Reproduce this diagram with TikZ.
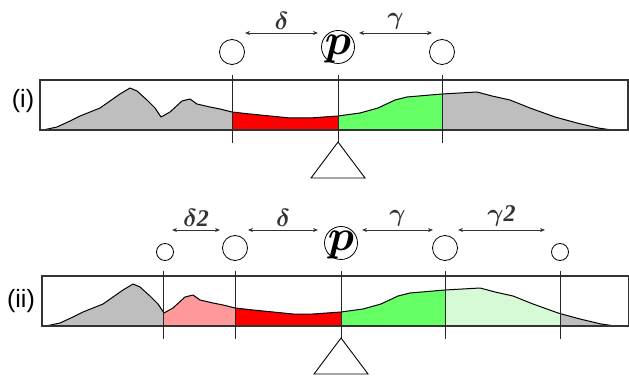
\documentclass[tikz,border=0pt]{standalone}
\usepackage{fontspec}
\usepackage{bm}
\usepackage{graphicx}
\setmainfont{Liberation Serif}
\setsansfont{Liberation Sans}
\usetikzlibrary{arrows.meta,positioning}
\definecolor{hillgray}{RGB}{190,190,190}
\definecolor{lossred}{RGB}{255,0,0}
\definecolor{losspink}{RGB}{255,153,153}
\definecolor{gaingreen}{RGB}{102,255,102}
\definecolor{gainpale}{RGB}{214,250,214}
\tikzset{
  panelbox/.style={draw=black!80, line width=1.1pt},
  ridge/.style={draw=black, line width=1pt, line join=round},
  marker/.style={draw=black!85, line width=0.9pt},
  stone/.style={circle, draw=black, line width=0.8pt, inner sep=0pt,
    minimum size=25pt},
  pebble/.style={stone, minimum size=17pt},
  pivot/.style={stone, minimum size=33pt},
  pivlbl/.style={inner sep=0pt, font=\fontsize{24}{24}\selectfont},
  span/.style={{Stealth[length=5pt,width=4pt]}-{Stealth[length=5pt,width=4pt]},
    line width=0.7pt, black!80},
  spanlbl/.style={font=\fontsize{24}{24}\selectfont, inner sep=1pt},
  rowlbl/.style={font=\sffamily\fontsize{25}{25}\selectfont},
  fulcrum/.style={draw=black, line width=0.9pt, fill=white},
}
\newcommand{\ridgepath}{(43,130) -- (57,127) -- (70,121) -- (80,116)
  -- (100,108) -- (110,101) -- (120,94) -- (130,88) -- (137,91)
  -- (147,100) -- (155,108) -- (161,117) -- (170,112) -- (182,101)
  -- (190,99) -- (197,104) -- (210,107) -- (220,109) -- (232,112)
  -- (250,114) -- (270,116) -- (290,118) -- (310,118) -- (338,116)
  -- (360,113) -- (378,108) -- (395,100) -- (407,97) -- (442,94)
  -- (477,92) -- (492,96) -- (510,100) -- (530,108) -- (555,117)
  -- (577,123) -- (598,128) -- (612,130)}
\newcommand{\band}[3]{%
  \begin{scope}
    \clip (#1,60) rectangle (#2,140);
    \fill[#3] \ridgepath -- cycle;
  \end{scope}
}
\newcommand{\bsym}[1]{$\bm{#1}$}
\newcommand{\bigp}{\scalebox{1.75}{\bsym{p}}}
\newcommand{\two}{\textbf{\textit{2}}}

\begin{document}
\begin{tikzpicture}[x=1pt, y=-1pt]
\useasboundingbox (0,0) rectangle (629,379);

%% ── Panel (i) ────────────────────────────────────────────────────────────
\band{0}{232}{hillgray}
\band{232}{338}{lossred}
\band{338}{442}{gaingreen}
\band{442}{629}{hillgray}
\draw[ridge] \ridgepath;
\draw[panelbox] (40,80) rectangle (628,130);
\node[rowlbl] (rowi) at (23,101) {(i)};

\node[stone] (lefti)  at (232,52) {};
\node[pivot] (pivi)   at (338,47) {};
\node[pivlbl] (pi) at ([yshift=-2pt]pivi.center) {\bigp};
\node[stone] (righti) at (442,52) {};

\coordinate (dai) at (245,33);  \coordinate (dbi) at (318,33);
\coordinate (gai) at (359,33);  \coordinate (gbi) at (432,33);
\draw[span] (dai) -- node[spanlbl, above=2pt] (deli) {\bsym{\delta}} (dbi);
\draw[span] (gai) -- node[spanlbl, above=2pt] (gami) {\bsym{\gamma}} (gbi);

\draw[marker] (232,75) -- (232,143);
\draw[marker] (442,75) -- (442,143);
\coordinate (topi) at (338,142);
\draw[marker] (338,75) -- (topi);
\draw[fulcrum] (topi) -- ++(-27,36) -- ++(54,0) -- cycle;

%% ── Panel (ii) ───────────────────────────────────────────────────────────
\begin{scope}[shift={(3,196)}]
  \band{0}{160}{hillgray}
  \band{160}{232}{losspink}
  \band{232}{338}{lossred}
  \band{338}{442}{gaingreen}
  \band{442}{557}{gainpale}
  \band{557}{629}{hillgray}
  \draw[ridge] \ridgepath;
  \draw[panelbox] (39,80) rectangle (626,130);

  \node[pebble] (farlii) at (162,56) {};
  \node[stone]  (leftii) at (232,52) {};
  \node[pivot]  (pivii)  at (338,47) {};
  \node[pivlbl] (pii) at ([yshift=-2pt]pivii.center) {\bigp};
  \node[stone]  (rightii) at (442,52) {};
  \node[pebble] (farrii) at (557,56) {};

  \coordinate (eaii) at (169,34); \coordinate (ebii) at (217,34);
  \coordinate (daii) at (245,34); \coordinate (dbii) at (315,34);
  \coordinate (gaii) at (359,34); \coordinate (gbii) at (430,34);
  \coordinate (haii) at (455,34); \coordinate (hbii) at (542,34);
  \draw[span] (eaii) -- node[spanlbl, above=2pt] (del2) {\bsym{\delta}\two} (ebii);
  \draw[span] (daii) -- node[spanlbl, above=2pt] (delii) {\bsym{\delta}} (dbii);
  \draw[span] (gaii) -- node[spanlbl, above=2pt] (gamii) {\bsym{\gamma}} (gbii);
  \draw[span] (haii) -- node[spanlbl, above=2pt] (gam2) {\bsym{\gamma}\two} (hbii);

  \draw[marker] (160,75) -- (160,143);
  \draw[marker] (232,75) -- (232,143);
  \draw[marker] (442,75) -- (442,143);
  \draw[marker] (557,75) -- (557,143);
  \coordinate (topii) at (338,142);
  \draw[marker] (338,75) -- (topii);
  \draw[fulcrum] (topii) -- ++(-27,36) -- ++(54,0) -- cycle;
\end{scope}
\node[rowlbl] (rowii) at (21,301) {(ii)};

\end{tikzpicture}
\end{document}
